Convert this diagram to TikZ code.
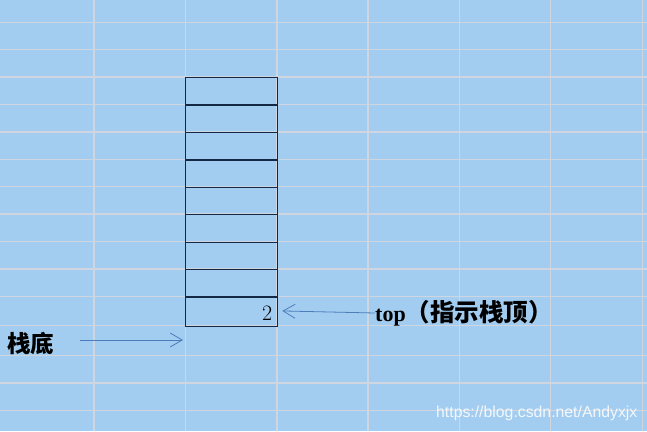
\documentclass[tikz,border=0pt]{standalone}
\usepackage{fontspec}
\usetikzlibrary{arrows.meta}
\newfontfamily\cjkfont{Noto Sans CJK SC}
\newfontfamily\serifbfont{Liberation Serif}
\newfontfamily\wmfont{Liberation Sans}
\definecolor{bgblue}{RGB}{163,205,240}
\definecolor{gridgray}{RGB}{208,214,224}
\definecolor{boxline}{RGB}{20,40,70}
\definecolor{arrowblue}{RGB}{75,125,185}
\tikzset{
  gridline/.style={draw=gridgray, line width=1.3pt},
  cellbox/.style={draw=boxline, line width=1.3pt, rectangle, inner sep=0pt,
    minimum width=92pt, anchor=north west},
  pointer/.style={draw=arrowblue, line width=0.8pt,
    -{Straight Barb[length=12pt, width=14pt, line width=0.8pt]}},
  label/.style={inner sep=0pt, text=black}
}
\begin{document}
\begin{tikzpicture}[x=1pt, y=-1pt]
\useasboundingbox (0,0) rectangle (647,431);
\fill[bgblue] (0,0) rectangle (647,431);
% grid
\foreach \yy in {22.3,49.7,77,104.3,132,159.3,186.7,214,241.7,269,296.3,325.7,355.3,383,410.3}
  \draw[gridline] (0,\yy) -- (647,\yy);
\foreach \xx in {94,185.5,277,368,459.3,550.7,642.3}
  \draw[gridline] (\xx,0) -- (\xx,431);
% stack cells
\node[cellbox, minimum height=27.3pt] (c1) at (185,77) {};
\node[cellbox, minimum height=27.7pt] (c2) at (185,104.3) {};
\node[cellbox, minimum height=27.3pt] (c3) at (185,132) {};
\node[cellbox, minimum height=27.4pt] (c4) at (185,159.3) {};
\node[cellbox, minimum height=27.3pt] (c5) at (185,186.7) {};
\node[cellbox, minimum height=27.7pt] (c6) at (185,214) {};
\node[cellbox, minimum height=27.3pt] (c7) at (185,241.7) {};
\node[cellbox, minimum height=27.3pt] (c8) at (185,269) {};
\node[cellbox, minimum height=29.4pt] (c9) at (185,296.3) {};
% value
\node[label, anchor=east, font=\fontsize{22}{26}\selectfont] (val) at (272.5,313) {2};
% labels
\node[label, anchor=west] (toplbl) at (375,313)
  {{\serifbfont\bfseries\fontsize{22}{26}\selectfont top}{\cjkfont\bfseries\fontsize{24.5}{28}\selectfont （指示栈顶）}};
\node[label, anchor=west, font=\cjkfont\bfseries\fontsize{23.5}{28}\selectfont] (bottomlbl) at (7,343) {栈底};
\coordinate (bottomtip) at (183,340);
% arrows
\draw[pointer] (toplbl.west) -- ([xshift=4pt, yshift=0.7pt]c9.east);
\draw[pointer] ([xshift=26pt]bottomlbl.east |- bottomtip) -- (bottomtip);
% watermark
\node[label, anchor=west, text=white, opacity=0.85, font=\wmfont\fontsize{15.8}{18}\selectfont] (wm) at (436,413) {https://blog.csdn.net/Andyxjx};
\end{tikzpicture}
\end{document}
